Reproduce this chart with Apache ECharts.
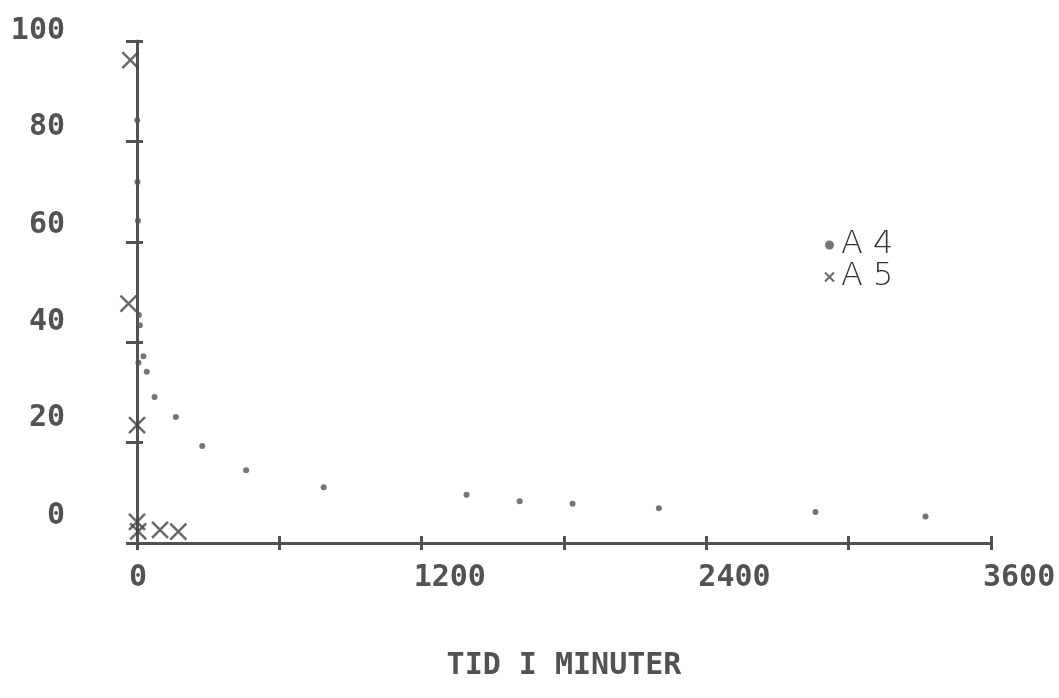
<!DOCTYPE html>
<html>
<head>
<meta charset="utf-8">
<script src="https://cdn.jsdelivr.net/npm/echarts@6/dist/echarts.min.js"></script>
<style>
  html, body { margin: 0; padding: 0; background: #fff; }
  #chart { width: 1059px; height: 698px; }
</style>
</head>
<body>
<div id="chart"></div>
<script>
// time in minutes
const a4Time = [1, 2, 4, 8, 12, 27, 6, 41, 74, 164, 275, 460, 787, 1389, 1613, 1836, 2200, 2860, 3324];
const a4Value = [84.2, 71.9, 64.2, 45.4, 43.4, 37.2, 35.9, 34.1, 29.1, 25.1, 19.3, 14.5, 11.1, 9.6, 8.3, 7.8, 6.9, 6.2, 5.3];
const a5Time = [-28, -36, 0, 0, 5, 97, 174];
const a5Value = [96.2, 47.7, 23.5, 4.2, 2.3, 2.6, 2.25];

const xTicks = [0, 1200, 2400, 3600];
const yTicks = [0, 20, 40, 60, 80, 100];

const ink = "#525252";
const plotFont = "DejaVu Sans Mono";
const crossPath = "path://M0,0L10,10M10,0L0,10";

// the plotter put each y label a bit higher than its tick
const yLift = { 0: 54, 20: 48, 40: 40, 60: 34, 80: 28, 100: 20 };
const yRich = {};
yTicks.forEach((v) => {
  yRich["o" + v] = {
    fontFamily: plotFont,
    fontWeight: "bold",
    fontSize: 30,
    color: ink,
    padding: [0, 0, yLift[v], 0],
  };
});

const pair = (xs, ys) => xs.map((x, i) => [x, ys[i]]);

const axisLine = { show: true, lineStyle: { color: ink, width: 3 } };
const tickStyle = { color: ink, width: 3 };

const chart = echarts.init(document.getElementById("chart"));

chart.setOption({
  animation: false,
  backgroundColor: "#fff",
  grid: { left: 137, right: 68, top: 41, bottom: 155 },
  legend: {
    orient: "vertical",
    left: 819,
    top: 224,
    itemGap: 0,
    itemWidth: 9,
    itemHeight: 9,
    formatter: (n) => n.split("").join(" "),
    textStyle: {
      fontFamily: "DejaVu Sans",
      fontWeight: 200,
      fontSize: 32,
      color: "#333",
      padding: [0, 0, 0, 2],
    },
    data: [
      { name: "A4", icon: "circle", itemStyle: { color: ink } },
      {
        name: "A5",
        icon: crossPath,
        itemStyle: { color: "transparent", borderColor: "#444", borderWidth: 2 },
      },
    ],
  },
  xAxis: [
    {
      type: "value",
      min: 0,
      max: 3600,
      interval: 600,
      name: "TID I MINUTER",
      nameLocation: "middle",
      nameGap: 108,
      nameTextStyle: {
        fontFamily: plotFont,
        fontWeight: "bold",
        fontSize: 30,
        color: ink,
      },
      splitLine: { show: false },
      axisLine: axisLine,
      axisTick: { show: true, length: 7, lineStyle: tickStyle },
      axisLabel: {
        margin: 20,
        align: "left",
        padding: [0, 0, 0, -8],
        fontFamily: plotFont,
        fontWeight: "bold",
        fontSize: 30,
        color: ink,
        formatter: (v) => (xTicks.includes(v) ? String(v) : ""),
      },
    },
    {
      type: "value",
      min: 0,
      max: 3600,
      interval: 600,
      position: "bottom",
      splitLine: { show: false },
      axisLine: { show: false },
      axisTick: { show: true, inside: true, length: 7, lineStyle: tickStyle },
      axisLabel: { show: false },
    },
  ],
  yAxis: [
    {
      type: "value",
      min: 0,
      max: 100,
      interval: 20,
      splitLine: { show: false },
      axisLine: axisLine,
      axisTick: { show: true, length: 11, lineStyle: tickStyle },
      axisLabel: {
        margin: 72,
        formatter: (v) => "{o" + v + "|" + v + "}",
        rich: yRich,
      },
    },
    {
      type: "value",
      min: 0,
      max: 100,
      interval: 20,
      position: "left",
      splitLine: { show: false },
      axisLine: { show: false },
      axisTick: { show: true, inside: true, length: 6, lineStyle: tickStyle },
      axisLabel: { show: false },
    },
  ],
  series: [
    {
      name: "A4",
      type: "scatter",
      clip: false,
      symbol: "circle",
      symbolSize: 6,
      itemStyle: { color: ink },
      data: pair(a4Time, a4Value),
    },
    {
      name: "A5",
      type: "scatter",
      clip: false,
      symbol: crossPath,
      symbolSize: 16,
      itemStyle: { color: "transparent", borderColor: "#444", borderWidth: 2.5 },
      data: pair(a5Time, a5Value),
    },
  ],
});
</script>
</body>
</html>
